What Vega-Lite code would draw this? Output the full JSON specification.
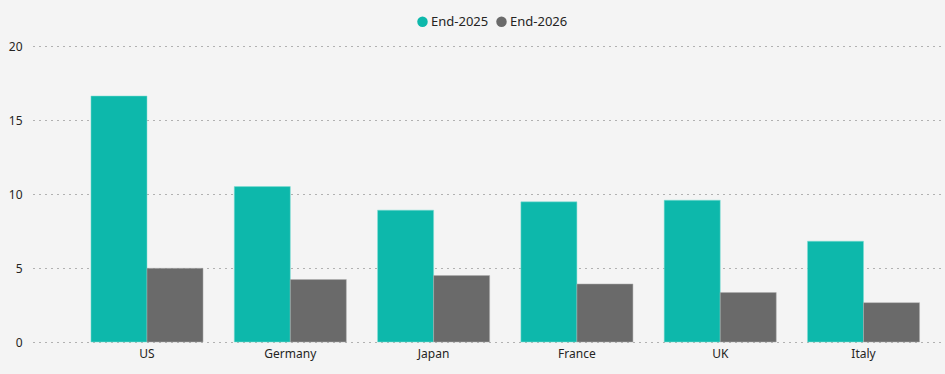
{
  "$schema": "https://vega.github.io/schema/vega-lite/v6.json",
  "autosize": {"type": "none"},
  "width": 912,
  "height": 296,
  "padding": {"left": 33, "top": 46, "right": 0, "bottom": 32},
  "background": "#f4f4f4",
  "data": {
    "values": [
      {"country": "US", "series": "End-2025", "value": 16.62},
      {"country": "US", "series": "End-2026", "value": 4.98},
      {"country": "Germany", "series": "End-2025", "value": 10.5},
      {"country": "Germany", "series": "End-2026", "value": 4.22},
      {"country": "Japan", "series": "End-2025", "value": 8.91},
      {"country": "Japan", "series": "End-2026", "value": 4.49},
      {"country": "France", "series": "End-2025", "value": 9.47},
      {"country": "France", "series": "End-2026", "value": 3.92},
      {"country": "UK", "series": "End-2025", "value": 9.58},
      {"country": "UK", "series": "End-2026", "value": 3.34},
      {"country": "Italy", "series": "End-2025", "value": 6.81},
      {"country": "Italy", "series": "End-2026", "value": 2.66}
    ]
  },
  "mark": {"type": "bar", "strokeWidth": 1, "strokeOpacity": 0.5},
  "encoding": {
    "x": {
      "field": "country",
      "type": "nominal",
      "sort": ["US", "Germany", "Japan", "France", "UK", "Italy"],
      "scale": {"paddingInner": 0.218, "paddingOuter": 0.291, "align": 0.695},
      "axis": {
        "title": null,
        "labelAngle": 0,
        "domain": false,
        "ticks": false,
        "grid": false,
        "labelPadding": 6,
        "labelFontSize": 12,
        "labelColor": "#252423",
        "labelFont": "Noto Sans"
      }
    },
    "xOffset": {
      "field": "series",
      "type": "nominal",
      "scale": {"paddingInner": 0, "paddingOuter": 0}
    },
    "y": {
      "field": "value",
      "type": "quantitative",
      "scale": {"domain": [0, 20], "nice": false},
      "axis": {
        "title": null,
        "values": [0, 5, 10, 15, 20],
        "domain": false,
        "ticks": false,
        "grid": true,
        "gridDash": [1, 5],
        "gridColor": "#6e6e6e",
        "gridWidth": 1,
        "labelPadding": 11,
        "labelFontSize": 12,
        "labelColor": "#252423",
        "labelFont": "Noto Sans"
      }
    },
    "color": {
      "field": "series",
      "type": "nominal",
      "scale": {"domain": ["End-2025", "End-2026"], "range": ["#0db8ab", "#6a6a6a"]},
      "legend": {
        "title": null,
        "orient": "none",
        "direction": "horizontal",
        "legendX": 383,
        "legendY": -31,
        "symbolType": "circle",
        "symbolSize": 110,
        "symbolOpacity": 1,
        "symbolStrokeWidth": 0,
        "labelFontSize": 13,
        "labelFont": "Noto Sans",
        "labelColor": "#252423",
        "labelOffset": 2,
        "columnPadding": 6
      }
    },
    "stroke": {
      "field": "series",
      "type": "nominal",
      "scale": {"domain": ["End-2025", "End-2026"], "range": ["#7fe0d6", "#b0b0b0"]},
      "legend": null
    }
  },
  "config": {
    "view": {"stroke": null},
    "font": "Noto Sans"
  }
}
